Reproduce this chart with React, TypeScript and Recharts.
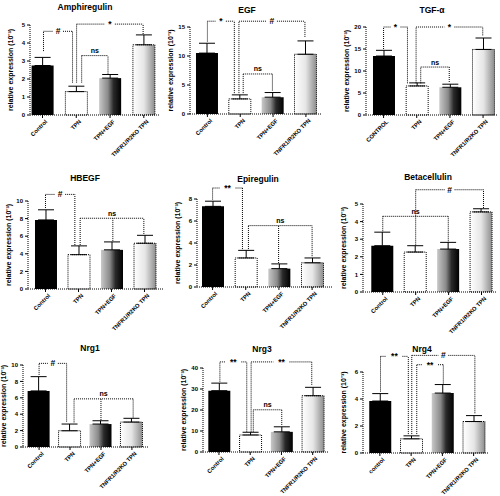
import React from "react";
import {
	Bar,
	BarChart,
	Cell,
	ErrorBar,
	ReferenceDot,
	ReferenceLine,
	XAxis,
	YAxis,
} from "recharts";

// group names (x tick labels)
const groups = ["Control", "TPN", "TPN+EGF", "TNFR1/R2KO TPN"];
const groupsCaps = ["CONTROL", "TPN", "TPN+EGF", "TNFR1/R2KO TPN"];
const groupsLower = ["control", "TPN", "TPN+EGF", "TNFR1/R2KO TPN"];

// means and error (SEM) per gene
const amphiregulin = [2.75, 1.3, 2.05, 3.9];
const amphiregulinSem = [0.45, 0.3, 0.2, 0.55];
const egf = [10.5, 2.6, 2.9, 10.3];
const egfSem = [1.7, 0.7, 0.8, 2.3];
const tgfa = [13.4, 6.6, 6.3, 14.9];
const tgfaSem = [1.3, 0.7, 0.7, 2.6];
const hbegf = [7.85, 3.9, 4.45, 5.2];
const hbegfSem = [1.15, 1.0, 0.9, 0.9];
const epiregulin = [7.33, 2.64, 1.67, 2.2];
const epiregulinSem = [0.47, 0.69, 0.43, 0.44];
const betacellulin = [2.63, 2.27, 2.44, 4.55];
const betacellulinSem = [0.77, 0.36, 0.38, 0.18];
const nrg1 = [6.84, 1.98, 2.8, 3.04];
const nrg1Sem = [1.74, 0.82, 0.4, 0.46];
const nrg3 = [29.2, 8.1, 9.6, 26.8];
const nrg3Sem = [3.6, 1.3, 2.4, 4.0];
const nrg4 = [3.85, 1.05, 4.44, 2.33];
const nrg4Sem = [0.55, 0.22, 0.63, 0.44];

// y tick labels
const ticks5 = [0, 1, 2, 3, 4, 5];
const ticks15 = [0, 5, 10, 15];
const ticks20 = [0, 5, 10, 15, 20];
const ticks10 = [0, 2, 4, 6, 8, 10];
const ticks8 = [0, 2, 4, 6, 8];
const ticks40 = [0, 10, 20, 30, 40];
const ticks6 = [0, 2, 4, 6];

const yLabel = "relative expression (10⁻³)";

type Bracket = {
	x1: number;
	x2: number;
	y: number;
	l1: number;
	l2: number;
	label: string;
	above?: boolean;
	mids?: [number, number][];
};

const panels = [
	{
		title: "Amphiregulin", labels: groups, mean: amphiregulin, sem: amphiregulinSem, ticks: ticks5,
		box: { x0: 30, x1: 160, yTop: 25, yBot: 115, xMin: -0.37, xMax: 3.48, tx: 85, ty: 7 },
		brackets: [
			{ x1: 0.03, x2: 0.89, y: 4.65, l1: 3.55, l2: 1.8, label: "#" },
			{ x1: 1.01, x2: 2.98, y: 5.05, l1: 1.8, l2: 4.5, label: "*" },
			{ x1: 1.16, x2: 1.94, y: 3.3, l1: 1.8, l2: 2.3, label: "ns", above: true },
		] as Bracket[],
	},
	{
		title: "EGF", labels: groups, mean: egf, sem: egfSem, ticks: ticks15,
		box: { x0: 190, x1: 322, yTop: 27, yBot: 114, xMin: -0.53, xMax: 3.49, tx: 247, ty: 10 },
		brackets: [
			{ x1: 0, x2: 0.82, y: 16, l1: 12.5, l2: 3.6, label: "*" },
			{ x1: 0.96, x2: 2.97, y: 16, l1: 3.6, l2: 13.3, label: "#" },
			{ x1: 1.09, x2: 1.98, y: 6.9, l1: 3.6, l2: 4.05, label: "ns", above: true },
		] as Bracket[],
	},
	{
		title: "TGF-α", labels: groupsCaps, mean: tgfa, sem: tgfaSem, ticks: ticks20,
		box: { x0: 366, x1: 497, yTop: 27, yBot: 115, xMin: -0.53, xMax: 3.42, tx: 432, ty: 10 },
		brackets: [
			{ x1: 0, x2: 0.72, y: 20, l1: 15, l2: 7.2, label: "*" },
			{ x1: 0.98, x2: 2.99, y: 20, l1: 7.2, l2: 18.1, label: "*" },
			{ x1: 1.12, x2: 1.98, y: 10.9, l1: 7.2, l2: 7.5, label: "ns", above: true },
		] as Bracket[],
	},
	{
		title: "HBEGF", labels: groups, mean: hbegf, sem: hbegfSem, ticks: ticks10,
		box: { x0: 28, x1: 163, yTop: 201, yBot: 289, xMin: -0.53, xMax: 3.56, tx: 85, ty: 178 },
		brackets: [
			{ x1: 0, x2: 0.89, y: 10.75, l1: 9.2, l2: 5.0, label: "#" },
			{ x1: 1.05, x2: 2.98, y: 8.04, l1: 5.0, l2: 6.26, label: "ns", above: true, mids: [[2.04, 5.47]] },
		] as Bracket[],
	},
	{
		title: "Epiregulin", labels: groups, mean: epiregulin, sem: epiregulinSem, ticks: ticks8,
		box: { x0: 197, x1: 332, yTop: 199, yBot: 287, xMin: -0.47, xMax: 3.6, tx: 258, ty: 179 },
		brackets: [
			{ x1: 0, x2: 0.9, y: 9, l1: 7.95, l2: 3.45, label: "**" },
			{ x1: 1.08, x2: 3.0, y: 5.58, l1: 3.45, l2: 2.8, label: "ns", above: true, mids: [[1.99, 2.18]] },
		] as Bracket[],
	},
	{
		title: "Betacellulin", labels: groups, mean: betacellulin, sem: betacellulinSem, ticks: ticks5,
		box: { x0: 363, x1: 497, yTop: 204, yBot: 292, xMin: -0.6, xMax: 3.47, tx: 428, ty: 177 },
		brackets: [
			{ x1: 0, x2: 1.99, y: 4.3, l1: 3.45, l2: 2.88, label: "ns", above: true, mids: [[1.0, 2.69]] },
			{ x1: 1.0, x2: 3.06, y: 5.81, l1: 4.3, l2: 4.77, label: "#" },
		] as Bracket[],
	},
	{
		title: "Nrg1", labels: groups, mean: nrg1, sem: nrg1Sem, ticks: ticks10,
		box: { x0: 23, x1: 148, yTop: 365, yBot: 447, xMin: -0.52, xMax: 3.52, tx: 90, ty: 348 },
		brackets: [
			{ x1: 0, x2: 0.89, y: 10.2, l1: 8.8, l2: 3.1, label: "#" },
			{ x1: 1.13, x2: 3.04, y: 5.87, l1: 3.0, l2: 3.6, label: "ns", above: true, mids: [[2.0, 3.3]] },
		] as Bracket[],
	},
	{
		title: "Nrg3", labels: groups, mean: nrg3, sem: nrg3Sem, ticks: ticks40,
		box: { x0: 203, x1: 328, yTop: 368, yBot: 452, xMin: -0.51, xMax: 3.49, tx: 262, ty: 349 },
		brackets: [
			{ x1: 0.03, x2: 0.89, y: 42.9, l1: 33.5, l2: 9.7, label: "**" },
			{ x1: 1.03, x2: 2.97, y: 42.9, l1: 9.7, l2: 32, label: "**" },
			{ x1: 1.1, x2: 2.01, y: 20.1, l1: 9.7, l2: 12.9, label: "ns", above: true },
		] as Bracket[],
	},
	{
		title: "Nrg4", labels: groupsLower, mean: nrg4, sem: nrg4Sem, ticks: ticks6,
		box: { x0: 363, x1: 488, yTop: 372, yBot: 453, xMin: -0.54, xMax: 3.46, tx: 422, ty: 349 },
		brackets: [
			{ x1: 0.02, x2: 0.91, y: 7.16, l1: 4.55, l2: 1.4, label: "**" },
			{ x1: 1.02, x2: 3.04, y: 7.23, l1: 1.4, l2: 2.94, label: "#" },
			{ x1: 1.18, x2: 2.03, y: 6.54, l1: 1.4, l2: 5.15, label: "**" },
		] as Bracket[],
	},
];

const dotted = { stroke: "#000", strokeDasharray: "1 1", strokeWidth: 1 };

function XTick({ x, y, payload, labels }: any) {
	return (
		<g transform={`translate(${x + 3},${y})`}>
			<text x={0} y={0} dy={3} textAnchor="end" transform="rotate(-45)" fontSize={5.8} fontWeight="bold" fill="#000">
				{labels[payload.value]}
			</text>
		</g>
	);
}

// significance mark drawn at the reference dot position
const sigLabel = (text: string, above?: boolean) => (props: any) => {
	const vb = props.viewBox || {};
	const cx = (vb.x ?? 0) + (vb.width ?? 0) / 2;
	const cy = (vb.y ?? 0) + (vb.height ?? 0) / 2;
	return (
		<text
			x={cx}
			y={above ? cy - 2.5 : cy + 3}
			textAnchor="middle"
			fontSize={above ? 7 : 8.5}
			fontWeight="bold"
			fill="#000"
			stroke="none"
		>
			{text}
		</text>
	);
};

function Panel({ p, k }: { p: (typeof panels)[number]; k: number }) {
	const { box } = p;
	const W = 30 + (box.x1 - box.x0) + 6;
	const H = 30 + (box.yBot - box.yTop) + 55;
	const data = p.mean.map((v, i) => ({ idx: i, v, err: [0, p.sem[i]] }));
	const yMax = p.ticks[p.ticks.length - 1];
	const pxPerIdx = (box.x1 - box.x0) / (box.xMax - box.xMin);
	const fills = ["#000", "#fff", `url(#ge-${k})`, `url(#gk-${k})`];

	const lines: React.ReactNode[] = [];
	p.brackets.forEach((b, j) => {
		const seg = (key: string, ax: number, ay: number, bx: number, by: number) =>
			lines.push(
				<ReferenceLine
					key={`${j}-${key}`}
					segment={[{ x: ax, y: ay }, { x: bx, y: by }]}
					ifOverflow="visible"
					{...dotted}
				/>,
			);
		seg("l1", b.x1, b.l1, b.x1, b.y);
		seg("l2", b.x2, b.l2, b.x2, b.y);
		(b.mids || []).forEach(([mx, mb], m) => seg(`m${m}`, mx, mb, mx, b.y));
		const mid = (b.x1 + b.x2) / 2;
		if (b.above) {
			seg("h", b.x1, b.y, b.x2, b.y);
		} else {
			const gap = (b.label === "**" ? 8 : 5) / pxPerIdx;
			seg("ha", b.x1, b.y, mid - gap, b.y);
			seg("hb", mid + gap, b.y, b.x2, b.y);
		}
		lines.push(
			<ReferenceDot
				key={`${j}-lab`}
				x={mid}
				y={b.y}
				r={0}
				fill="none"
				stroke="none"
				ifOverflow="visible"
				label={sigLabel(b.label, b.above)}
			/>,
		);
	});

	return (
		<>
			<div
				style={{
					position: "absolute",
					left: box.tx,
					top: box.ty - 5,
					transform: "translateX(-50%)",
					fontSize: 8.5,
					fontWeight: "bold",
					lineHeight: "10px",
					whiteSpace: "nowrap",
					zIndex: 2,
				}}
			>
				{p.title}
			</div>
			<div style={{ position: "absolute", left: box.x0 - 30, top: box.yTop - 30 }}>
				<BarChart width={W} height={H} data={data} margin={{ top: 30, right: 6, left: 0, bottom: 0 }}>
					<defs>
						<linearGradient id={`ge-${k}`} x1="0" y1="0" x2="1" y2="0">
							<stop offset="0%" stopColor="#c8c8c8" />
							<stop offset="40%" stopColor="#8a8a8a" />
							<stop offset="65%" stopColor="#2a2a2a" />
							<stop offset="100%" stopColor="#000" />
						</linearGradient>
						<linearGradient id={`gk-${k}`} x1="0" y1="0" x2="1" y2="0">
							<stop offset="0%" stopColor="#fff" />
							<stop offset="50%" stopColor="#e6e6e6" />
							<stop offset="100%" stopColor="#8c8c8c" />
						</linearGradient>
					</defs>
					<XAxis
						dataKey="idx"
						type="number"
						domain={[box.xMin, box.xMax]}
						ticks={[0, 1, 2, 3]}
						interval={0}
						allowDataOverflow
						height={55}
						tickSize={3}
						tickLine={{ stroke: "#000" }}
						axisLine={dotted}
						tick={(props: any) => <XTick {...props} labels={p.labels} />}
					/>
					<YAxis
						type="number"
						domain={[0, yMax]}
						ticks={p.ticks}
						interval={0}
						width={30}
						tickSize={3}
						tickMargin={2}
						tickLine={{ stroke: "#000" }}
						axisLine={dotted}
						tick={{ fontSize: 6, fontWeight: "bold", fill: "#000" }}
						label={{
							value: yLabel,
							angle: -90,
							position: "center",
							dx: -4,
							style: { fontSize: 7, fontWeight: "bold", fill: "#000" },
						}}
					/>
					<Bar dataKey="v" barSize={22} isAnimationActive={false}>
						{data.map((d, i) => (
							<Cell
								key={`c-${i}`}
								fill={fills[i]}
								stroke={i === 1 || i === 3 ? "#000" : "none"}
								strokeDasharray="1 1"
							/>
						))}
						<ErrorBar dataKey="err" width={8} stroke="#000" strokeWidth={1} />
					</Bar>
					{lines}
				</BarChart>
			</div>
		</>
	);
}

export default function App() {
	return (
		<div
			style={{
				position: "absolute",
				left: 0,
				top: 0,
				width: 500,
				height: 496,
				background: "#fff",
				fontFamily: '"Liberation Sans", Arial, sans-serif',
				overflow: "hidden",
			}}
		>
			<style>{"svg{overflow:visible}"}</style>
			{panels.map((p, k) => (
				<Panel key={k} p={p} k={k} />
			))}
		</div>
	);
}
